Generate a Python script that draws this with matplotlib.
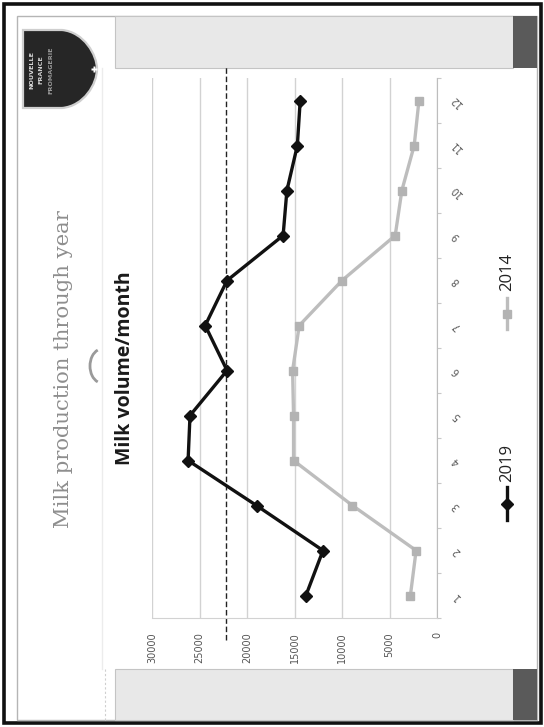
import matplotlib
matplotlib.use("Agg")
import matplotlib.pyplot as plt
from matplotlib.patches import Rectangle, PathPatch, Arc
from matplotlib.path import Path
from matplotlib.lines import Line2D

# ---- data -------------------------------------------------------------
months = list(range(1, 13))
month_labels = [str(m) for m in months]
milk_2019 = [13800, 12000, 19000, 26200, 26000, 22100, 24400, 22100, 16200, 15800, 14700, 14400]
milk_2014 = [2800, 2200, 8900, 15100, 15100, 15200, 14500, 10000, 4400, 3700, 2400, 1900]
target_level = 22200
value_ticks = [0, 5000, 10000, 15000, 20000, 25000, 30000]
value_labels = [str(v) for v in value_ticks]
series_names = ["2019", "2014"]
title_text = "Milk production through year"
subtitle_text = "Milk volume/month"
logo_lines = ["NOUVELLE", "FRANCE", "FROMAGERIE"]

# ---- figure & page layer (pixel coordinates, origin top-left) --------
W, H = 544, 727
fig = plt.figure(figsize=(W / 100, H / 100), dpi=100)
fig.patch.set_facecolor("white")

page = fig.add_axes([0, 0, 1, 1], zorder=0)
page.set_xlim(0, W)
page.set_ylim(H, 0)
page.axis("off")

# outer black frame and inner slide border
page.add_patch(Rectangle((3.5, 3.5), 537, 719, fill=False, ec="#111111", lw=2.6))
page.add_patch(Rectangle((17, 16), 520, 704, fill=False, ec="#b5b5b5", lw=1.0))

# light bands at top and bottom of the slide with dark end blocks
for y0, h in [(16, 52), (669, 51)]:
    page.add_patch(Rectangle((115, y0), 398, h, fc="#e8e8e8", ec="#c4c4c4", lw=0.8))
    page.add_patch(Rectangle((513, y0), 24, h, fc="#5a5a5a", ec="none"))
page.plot([102, 102], [68, 669], color="#ececec", lw=1.0)
page.plot([105, 105], [669, 720], color="#cfcfcf", lw=0.8, ls=(0, (2, 2)))

# logo shield
verts = [(23, 30), (62, 30), (84, 32), (97, 55), (97, 69),
         (97, 84), (84, 106), (62, 108), (23, 108), (23, 30)]
codes = [Path.MOVETO, Path.LINETO, Path.CURVE4, Path.CURVE4, Path.CURVE4,
         Path.CURVE4, Path.CURVE4, Path.CURVE4, Path.LINETO, Path.CLOSEPOLY]
page.add_patch(PathPatch(Path(verts, codes), fc="#262626", ec="#cfcfcf", lw=1.6))
page.plot([94], [69], marker="P", ms=5, color="white", mec="none")
for x, txt, col in zip([32, 41, 51], logo_lines, ["#dddddd", "#cfcfcf", "#9a9a9a"]):
    page.text(x, 70, txt, rotation=90, ha="center", va="center",
              fontsize=4.6, color=col, family="DejaVu Sans Condensed", fontweight="bold")

# titles
page.text(64, 369, title_text, rotation=90, ha="center", va="center",
          family="DejaVu Serif", fontsize=15.2, color="#8e8e8e")
page.add_patch(Arc((102, 366), 24, 34, theta1=105, theta2=255, color="#9a9a9a", lw=2.0))
page.text(125, 368, subtitle_text, rotation=90, ha="center", va="center",
          family="Open Sans", fontweight="bold", fontsize=14, color="#1a1a1a")

# ---- chart ---------------------------------------------------------------
ax = fig.add_axes([152 / W, 1 - 618 / H, (437 - 152) / W, (618 - 78) / H], zorder=2)
ax.patch.set_alpha(0)

line19, = ax.plot(milk_2019, months, color="#111111", lw=2.4, marker="D", ms=6,
                  zorder=4, label=series_names[0])
line14, = ax.plot(milk_2014, months, color="#bdbdbd", lw=2.4, marker="s", ms=5.5,
                  mfc="#b3b3b3", mec="#b3b3b3", zorder=3, label=series_names[1])

ax.set_xlim(30000, 0)
ax.set_ylim(0.5, 12.5)
ax.set_xticks(value_ticks)
ax.set_xticklabels(value_labels, rotation=90, fontsize=7, color="#555555")
ax.tick_params(axis="x", length=0, pad=10)
ax.xaxis.grid(True, color="#d2d2d2", lw=1.0)
ax.set_axisbelow(True)

ax.yaxis.tick_right()
ax.set_yticks(months)
ax.set_yticklabels(month_labels, rotation=135, fontsize=7, color="#555555",
                   rotation_mode="anchor")
ax.tick_params(axis="y", which="major", length=0, pad=14)
ax.set_yticks([m + 0.5 for m in [0] + months], minor=True)
ax.tick_params(axis="y", which="minor", length=3, color="#c8c8c8", width=0.8)
for lab in ax.get_yticklabels():
    lab.set_ha("center")
    lab.set_va("center")

for s in ["left", "top"]:
    ax.spines[s].set_visible(False)
ax.spines["bottom"].set_color("#d2d2d2")
ax.spines["right"].set_color("#bdbdbd")

# reference level
ax.axvline(target_level, ymin=-0.041, ymax=1.02, color="#222222", lw=1.0,
           ls=(0, (4, 2)), clip_on=False, zorder=2)

# ---- legend (drawn vertically along the right edge) -------------------
for line, (y_top, y_bot), y_text in [(line19, (487, 520), 463), (line14, (298, 329), 272)]:
    page.add_line(Line2D([507, 507], [y_top, y_bot], color=line.get_color(), lw=2.4))
    page.add_line(Line2D([507], [(y_top + y_bot) / 2], marker=line.get_marker(),
                         ms=line.get_markersize(), color=line.get_markerfacecolor(),
                         mec=line.get_markeredgecolor(), lw=0))
    page.text(507, y_text, line.get_label(), rotation=90, ha="center", va="center",
              fontsize=12, color="#222222", family="Open Sans")

fig.savefig("out.png", dpi=100)
